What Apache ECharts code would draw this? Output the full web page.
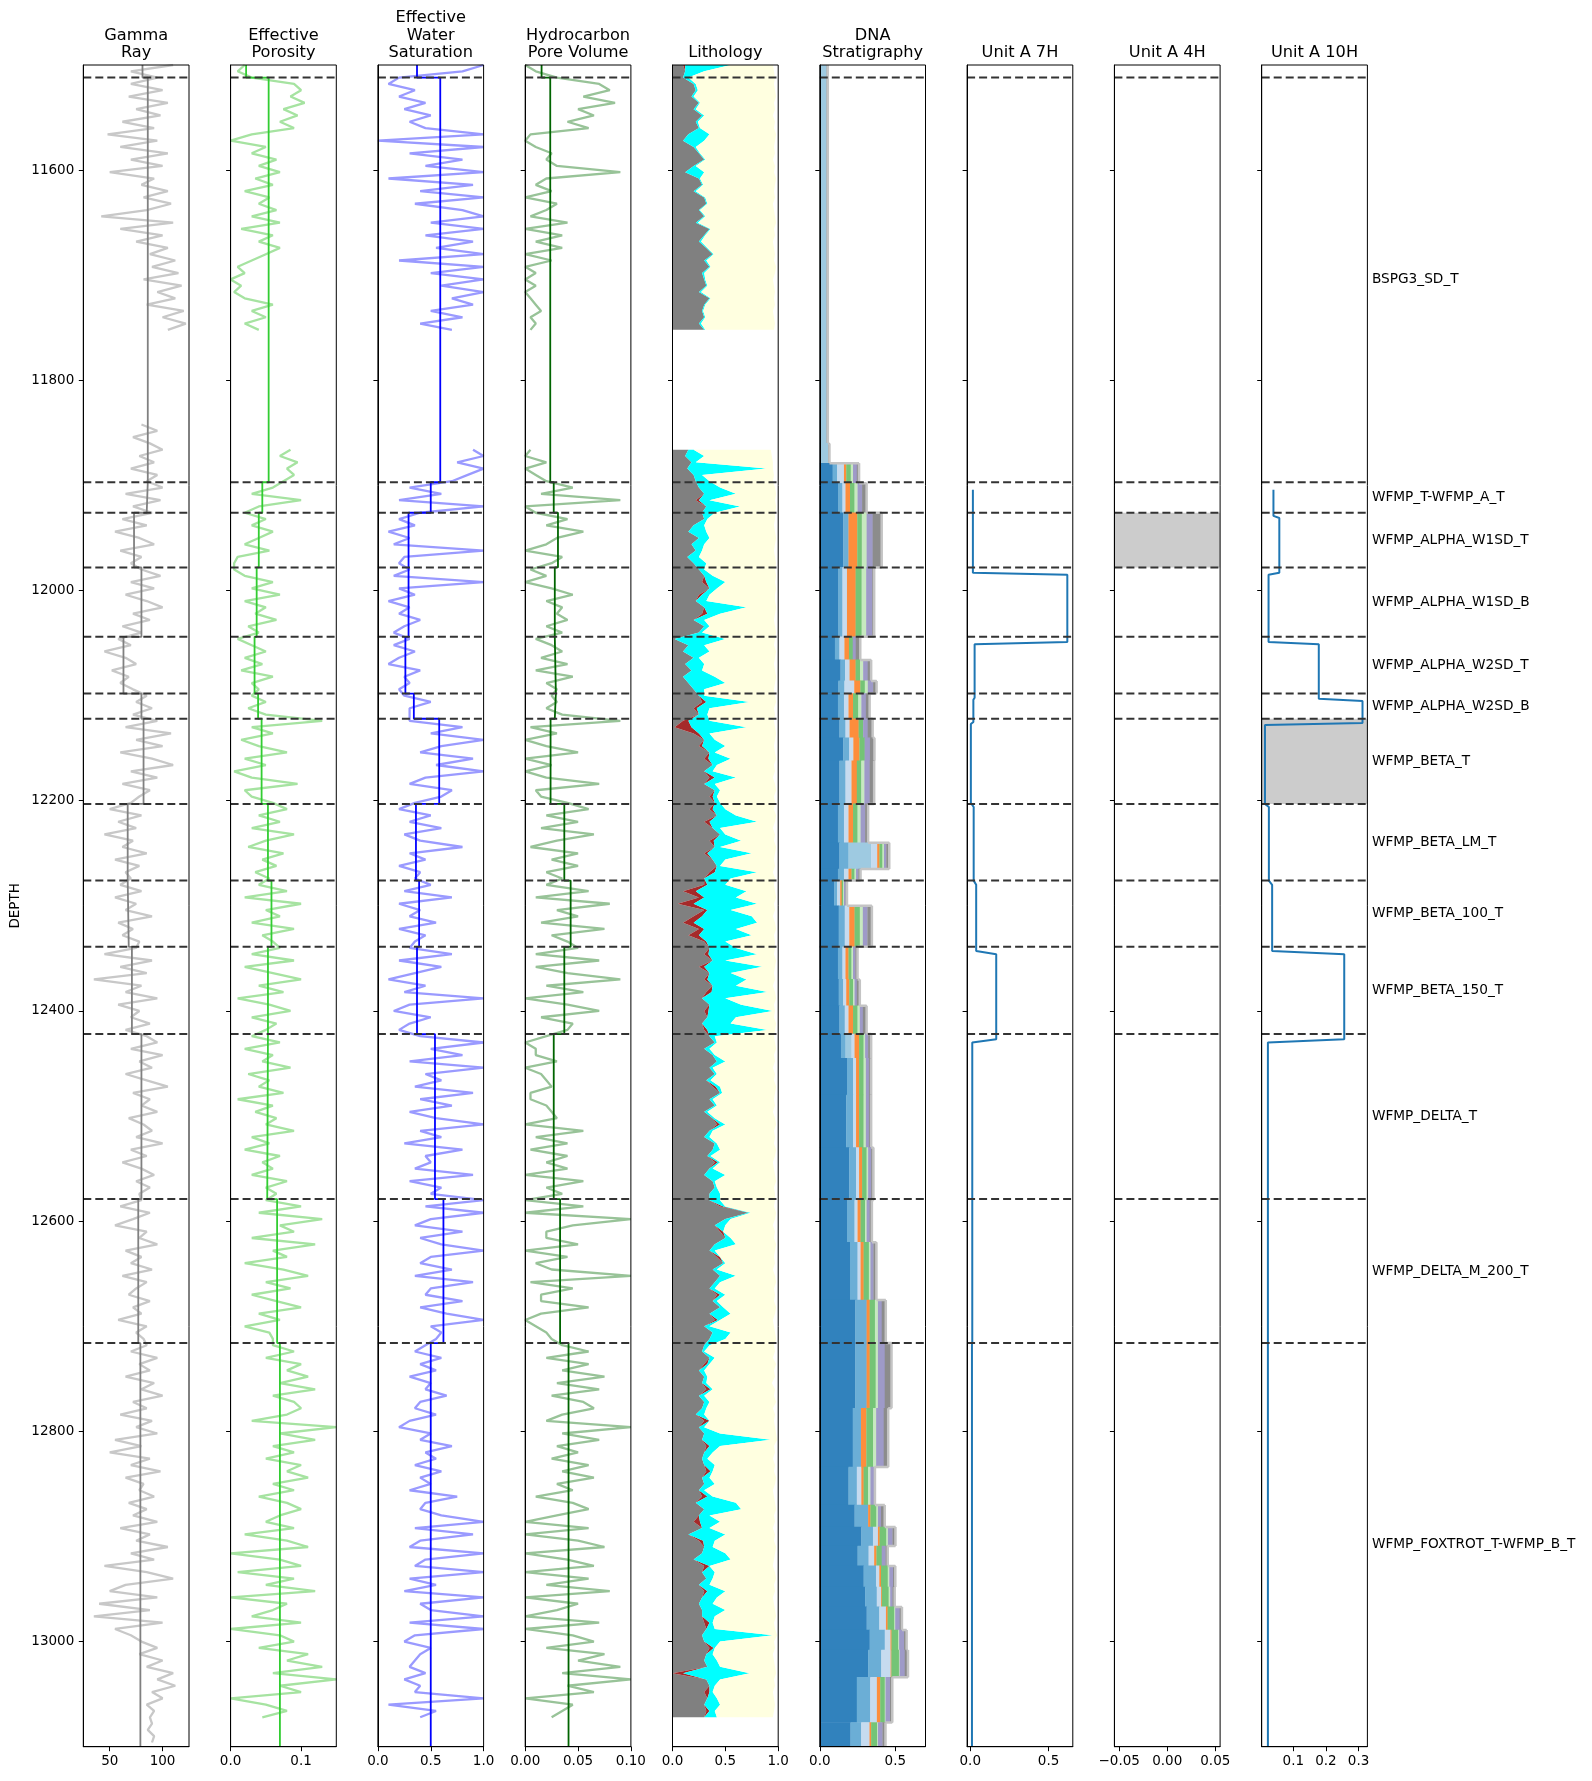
<!DOCTYPE html>
<html><head><meta charset="utf-8">
<script src="https://cdn.jsdelivr.net/npm/echarts@6/dist/echarts.min.js"></script>
<style>html,body{margin:0;padding:0;background:#fff}#c{width:1592px;height:1781px}</style>
</head><body><div id="c"></div>
<script>
// ---------------- DATA ----------------
const STEP = 6;
const UPPER_START = 11500;
const GR_LOWER_START = 11842;
const LOG_LOWER_START = 11866;
const DEPTH_MIN = 11500, DEPTH_MAX = 13100;
const DEPTH_TICKS = [11600, 11800, 12000, 12200, 12400, 12600, 12800, 13000];

const TOPS = [11512, 11897, 11926, 11978, 12044, 12098, 12122, 12203, 12276, 12339, 12422, 12579, 12716];
const TOP_NAMES = ['BSPG3_SD_T','WFMP_T-WFMP_A_T','WFMP_ALPHA_W1SD_T','WFMP_ALPHA_W1SD_B','WFMP_ALPHA_W2SD_T','WFMP_ALPHA_W2SD_B','WFMP_BETA_T','WFMP_BETA_LM_T','WFMP_BETA_100_T','WFMP_BETA_150_T','WFMP_DELTA_T','WFMP_DELTA_M_200_T','WFMP_FOXTROT_T-WFMP_B_T'];

// zone means (14 zones: 11500-11512, 11512-11897, ... , 12716-13100)
const GR_MEAN   = [81, 86, 85, 73, 80, 63, 80, 82, 67, 68, 71, 80, 77, 79];
const PHIE_MEAN = [0.022, 0.054, 0.045, 0.040, 0.037, 0.034, 0.039, 0.044, 0.053, 0.058, 0.053, 0.052, 0.066, 0.070];
const SW_MEAN   = [0.37, 0.59, 0.50, 0.29, 0.29, 0.26, 0.34, 0.58, 0.36, 0.39, 0.37, 0.54, 0.62, 0.50];
const HCPV_MEAN = [0.0155, 0.0237, 0.027, 0.031, 0.028, 0.029, 0.028, 0.024, 0.037, 0.043, 0.037, 0.027, 0.033, 0.041];

// Gamma ray
const GR_UPPER = [110,70,95,70,100,68,105,75,98,62, 92,48,95,60,105,70,100,50,92,80, 105,82,108,85,42,110,60,100,75,105, 88,112,90,115,82,118,95,112,85,120, 100,122,105];
const GR_LOWER = [
80,95,72,88,100,78,92,70,95,85,
100,65,98,72,90,
62,85,55,78,92,60,80,70,
80,98,70,92,65,85,100,72,88,62,80,
58,70,45,65,75,52,68,60,72,
85,75,90,72,
95,65,108,75,100,60,90,110,70,95,62,88,78,
70,50,80,58,75,45,72,62,85,55,78,65,70,
60,80,55,75,65,90,58,72,62,78,
75,45,90,60,85,35,80,65,95,58,78,70,88,65,
85,95,70,100,78,90,65,85,105,72,88,80,95,68,82,90,75,100,70,85,62,80,92,75,88,78,
80,60,88,72,55,85,78,95,65,80,70,90,62,85,75,68,88,72,80,58,85,75,82,
85,70,95,78,88,65,92,80,100,72, 85,60,90,75,95,55,80,50,88,70, 98,65,82,78,92,68,85,72,95,60,
88,75,105,70,92,45,85,110,65,50, 95,40,88,35,100,55,70,
80,95,78,100,85,110,95,112,90,100,85,92,88,90,86,92,90];

// Effective porosity
const PHIE_UPPER = [0.02,0.01,0.03,0.09,0.1,0.085,0.105,0.075,0.095,0.07, 0.09,0.03,0.0,0.05,0.03,0.065,0.04,0.07,0.035,0.06, 0.02,0.055,0.04,0.065,0.03,0.07,0.015,0.06,0.04,0.07, 0.05,0.03,0.01,0.02,0.0,0.015,0.005,0.02,0.06,0.03, 0.05,0.02,0.04];
const PHIE_LOWER = [
0.085,0.07,0.095,0.08,0.09,0.075,
0.06,0.03,0.1,0.04,0.02,
0.05,0.03,0.06,0.04,0.02,0.055,0.01,0.005,
0.005,0.02,0.06,0.03,0.07,0.02,0.05,0.035,0.065,0.025,0.04,
0.01,0.03,0.05,0.02,0.045,0.015,0.06,0.03,0.04,
0.03,0.05,0.025,0.05,
0.13,0.03,0.06,0.015,0.04,0.08,0.02,0.05,0.005,0.03,0.095,0.02,0.03,
0.06,0.08,0.04,0.07,0.03,0.09,0.05,0.025,0.075,0.045,0.065,0.035,0.055,
0.04,0.08,0.02,0.1,0.05,0.07,0.03,0.09,0.045,0.06,
0.07,0.03,0.09,0.02,0.06,0.1,0.04,0.075,0.01,0.055,0.085,0.03,0.065,0.05,
0.03,0.07,0.02,0.06,0.045,0.085,0.025,0.055,0.04,0.075,0.01,0.06,0.035,0.065,0.05,0.09,0.03,0.055,0.02,0.07,0.045,0.06,0.03,0.08,0.05,0.065,
0.05,0.1,0.04,0.13,0.07,0.09,0.03,0.12,0.06,0.08,0.02,0.075,0.11,0.05,0.085,0.03,0.065,0.1,0.04,0.07,0.02,0.055,0.06,
0.06,0.09,0.05,0.1,0.08,0.11,0.07,0.12,0.06,0.09, 0.1,0.08,0.03,0.15,0.07,0.12,0.06,0.09,0.05,0.1,
0.08,0.11,0.06,0.09,0.04,0.08,0.1,0.07,0.05,0.09, 0.02,0.08,0.11,0.0,0.07,0.1,0.01,0.09,0.05,0.12,
0.0,0.08,0.06,0.03,0.1,0.0,0.07,0.09,0.04,0.11, 0.08,0.13,0.06,0.15,0.07,0.1,0.0,0.05,0.08,0.045];

// Effective water saturation
const SW_UPPER = [1.0,0.8,0.2,0.1,0.35,0.2,0.45,0.25,0.5,0.3, 0.45,1.0,0.0,1.0,0.3,0.8,0.45,1.0,0.1,0.9, 0.4,1.0,0.35,0.8,1.0,0.5,1.0,0.45,0.9,0.55, 1.0,0.2,1.0,0.5,1.0,0.6,1.0,0.7,0.9,0.5, 0.8,0.4,0.7];
const SW_LOWER = [
0.9,1.0,0.75,1.0,0.85,0.7,
0.3,0.6,0.2,1.0,0.4,
0.2,0.35,0.1,0.3,0.15,1.0,0.25,0.2,
0.3,0.15,1.0,0.2,0.35,0.1,0.3,0.2,0.4,0.25,0.15,
0.3,0.15,0.35,0.2,0.1,0.4,0.25,0.3,0.2,
0.25,0.5,0.3,0.3,
0.3,0.8,0.5,1.0,0.6,0.4,0.9,0.55,1.0,0.45,0.3,0.7,0.6,
0.35,0.2,0.5,0.3,0.6,0.25,0.4,0.8,0.3,0.45,0.2,0.4,0.35,
0.5,0.25,0.7,0.2,0.4,0.3,0.55,0.2,0.45,0.35,
0.3,0.7,0.2,0.6,0.35,0.1,0.45,0.25,1.0,0.3,0.15,0.5,0.3,0.2,
0.4,1.0,0.5,0.8,0.3,1.0,0.45,0.6,0.35,0.9,0.4,0.7,0.3,0.55,1.0,0.4,0.6,0.25,0.8,0.45,0.5,0.35,0.9,0.3,0.6,0.5,
1.0,0.45,1.0,0.5,0.35,0.8,0.4,0.6,1.0,0.5,0.4,0.7,0.35,0.9,0.5,0.45,0.8,0.4,0.65,1.0,0.5,0.6,0.55,
0.45,0.35,0.6,0.4,0.55,0.3,0.5,0.45,0.65,0.4, 0.35,0.55,0.3,0.2,0.5,0.4,0.7,0.45,0.55,0.35,
0.6,0.4,0.5,0.3,0.75,0.45,0.4,0.6,1.0,0.35, 0.9,0.4,0.3,1.0,0.45,0.35,1.0,0.3,0.55,0.25,
1.0,0.4,0.5,1.0,0.3,1.0,0.35,0.25,0.5,0.4, 0.35,0.3,0.45,0.25,0.4,0.35,1.0,0.1,0.55,0.4];

// Hydrocarbon pore volume
const HCPV_UPPER = [0.0,0.01,0.03,0.07,0.08,0.055,0.085,0.05,0.065,0.04, 0.06,0.005,0.0,0.01,0.025,0.02,0.03,0.09,0.02,0.01, 0.025,0.0,0.03,0.02,0.005,0.04,0.0,0.035,0.01,0.035, 0.0,0.025,0.0,0.01,0.0,0.01,0.0,0.005,0.01,0.015, 0.005,0.01,0.005];
const HCPV_LOWER = [
0.005,0.0,0.02,0.0,0.01,0.02,
0.045,0.015,0.09,0.0,0.01,
0.04,0.02,0.055,0.03,0.02,0.0,0.035,0.025,
0.005,0.02,0.0,0.025,0.045,0.02,0.035,0.03,0.04,0.02,0.035,
0.01,0.025,0.035,0.015,0.04,0.01,0.045,0.02,0.03,
0.025,0.03,0.02,0.035,
0.09,0.005,0.03,0.0,0.02,0.05,0.0,0.025,0.0,0.02,0.07,0.01,0.015,
0.04,0.06,0.02,0.05,0.015,0.065,0.03,0.005,0.05,0.025,0.05,0.02,0.035,
0.02,0.06,0.01,0.08,0.03,0.05,0.015,0.075,0.025,0.04,
0.05,0.01,0.07,0.01,0.04,0.09,0.02,0.055,0.0,0.04,0.07,0.015,0.045,0.04,
0.02,0.0,0.01,0.01,0.03,0.0,0.015,0.02,0.025,0.005,0.005,0.02,0.025,0.03,0.0,0.055,0.01,0.04,0.005,0.04,0.02,0.04,0.0,0.055,0.02,0.035,
0.0,0.055,0.0,0.1,0.045,0.02,0.02,0.05,0.0,0.04,0.01,0.025,0.1,0.005,0.045,0.015,0.015,0.06,0.015,0.0,0.01,0.02,0.025,
0.035,0.06,0.02,0.06,0.035,0.075,0.03,0.07,0.025,0.055, 0.065,0.035,0.02,0.1,0.035,0.07,0.03,0.05,0.025,0.06,
0.035,0.065,0.03,0.045,0.01,0.045,0.06,0.03,0.0,0.06, 0.0,0.05,0.075,0.0,0.04,0.065,0.0,0.06,0.02,0.08,
0.0,0.05,0.03,0.0,0.07,0.0,0.045,0.065,0.02,0.075, 0.05,0.09,0.035,0.1,0.04,0.065,0.0,0.045,0.035,0.025];

// Lithology: shale edge, brown width, sand (cyan) edge, outer (light yellow) edge
const LITH_SH_UPPER = [0.1,0.12,0.1,0.2,0.22,0.18,0.25,0.2,0.28,0.22, 0.25,0.15,0.1,0.2,0.25,0.3,0.2,0.12,0.25,0.28, 0.2,0.3,0.32,0.25,0.3,0.22,0.35,0.3,0.25,0.32, 0.38,0.3,0.35,0.28,0.3,0.32,0.25,0.35,0.3,0.28, 0.3,0.25,0.3];
const LITH_BR_UPPER = [0.02,0,0,0,0,0,0,0,0,0, 0,0,0,0,0,0,0,0,0,0, 0,0,0,0,0,0,0,0,0,0, 0,0,0,0,0,0,0,0,0,0, 0,0,0];
const LITH_SS_UPPER = [0.55,0.3,0.15,0.22,0.24,0.2,0.26,0.22,0.3,0.24, 0.26,0.35,0.3,0.22,0.26,0.31,0.22,0.3,0.26,0.29, 0.22,0.31,0.33,0.26,0.31,0.24,0.36,0.31,0.27,0.33, 0.39,0.32,0.36,0.3,0.31,0.33,0.27,0.36,0.31,0.29, 0.31,0.27,0.31];
const LITH_END_UPPER = [0.95,0.96,0.97,0.96,0.97,0.98,0.96,0.97,0.95,0.97, 0.96,0.98,0.97,0.96,0.97,0.95,0.97,0.96,0.98,0.97, 0.96,0.97,0.95,0.96,0.97,0.98,0.96,0.97,0.95,0.96, 0.97,0.96,0.98,0.97,0.95,0.96,0.97,0.96,0.97,0.95, 0.96,0.97,0.96];

const LITH_SH_LOWER = [
0.15,0.12,0.18,0.14,0.2,0.22,
0.25,0.3,0.22,0.32,0.28,
0.3,0.2,0.15,0.25,0.18,0.22,0.14,0.2,
0.25,0.3,0.28,0.35,0.25,0.22,0.3,0.28,0.2,0.3,0.25,
0.02,0.15,0.1,0.2,0.12,0.18,0.1,0.15,0.2,
0.25,0.28,0.2,0.25,
0.1,0.02,0.2,0.3,0.25,0.35,0.3,0.38,0.3,0.35,0.3,0.4,0.35,
0.4,0.35,0.42,0.3,0.38,0.45,0.35,0.4,0.3,0.38,0.42,0.35,0.3,
0.3,0.1,0.25,0.05,0.3,0.2,0.1,0.25,0.15,0.3,
0.35,0.3,0.38,0.25,0.35,0.3,0.38,0.32,0.28,0.35,0.3,0.33,0.28,0.3,
0.35,0.4,0.3,0.38,0.42,0.35,0.4,0.32,0.38,0.45,0.35,0.4,0.3,0.38,0.42,0.35,0.3,0.4,0.38,0.33,0.4,0.35,0.3,0.38,0.4,0.35,
0.35,0.45,0.72,0.5,0.4,0.45,0.5,0.4,0.35,0.42,0.48,0.38,0.45,0.4,0.35,0.42,0.38,0.45,0.35,0.4,0.3,0.38,0.35,
0.3,0.28,0.35,0.3,0.25,0.3,0.28,0.32,0.25,0.3, 0.28,0.22,0.3,0.25,0.3,0.28,0.32,0.3,0.28,0.3,
0.32,0.28,0.3,0.25,0.28,0.22,0.3,0.25,0.2,0.28, 0.15,0.25,0.3,0.28,0.2,0.3,0.28,0.32,0.25,0.3,
0.28,0.25,0.28,0.28,0.3,0.32,0.28,0.3,0.35,0.32, 0.3,0.33,0.0,0.32,0.35,0.3,0.33,0.3,0.32,0.3];
const LITH_BR_LOWER = [
0,0,0,0,0,0,
0,0,0.03,0,0,
0,0,0,0,0,0,0,0,
0,0,0.04,0,0.03,0,0,0.05,0,0,0,
0,0,0,0,0,0,0,0,0,
0,0.04,0.03,0,
0.05,0.16,0.05,0,0.03,0,0.04,0,0,0.05,0,0,0.03,
0,0.03,0,0.05,0,0,0.04,0,0.03,0,0,0.05,0,
0.03,0.12,0.05,0.15,0.03,0.08,0.1,0.05,0.1,0.02,
0,0.04,0,0.05,0,0.03,0,0.05,0,0,0.04,0,0,0.03,
0,0,0,0,0,0,0,0,0.03,0,0,0,0,0,0.03,0,0,0,0,0,0.03,0,0,0,0,0,
0,0.03,0,0,0,0.03,0,0,0,0.03,0,0,0,0,0,0.03,0,0,0,0.03,0,0,0,
0,0,0,0.03,0,0,0,0.04,0,0, 0,0,0.05,0,0,0,0.03,0,0,0,
0.04,0,0,0,0.05,0,0,0,0.06,0, 0,0.04,0,0,0,0.05,0,0,0,0.03,
0,0,0,0,0.05,0,0,0,0.04,0, 0,0,0.1,0,0,0.05,0,0,0.03,0];
const LITH_SS_LOWER = [
0.2,0.3,0.22,0.89,0.28,0.35,
0.45,0.6,0.35,0.64,0.4,
0.33,0.3,0.32,0.35,0.3,0.28,0.25,0.32,
0.3,0.38,0.5,0.42,0.35,0.32,0.7,0.45,0.3,0.35,0.28,
0.5,0.3,0.35,0.25,0.3,0.28,0.4,0.5,0.3,
0.3,0.73,0.35,0.33,
0.35,0.7,0.35,0.4,0.5,0.4,0.55,0.42,0.38,0.6,0.4,0.45,0.42,
0.45,0.5,0.6,0.8,0.45,0.5,0.65,0.45,0.75,0.5,0.45,0.8,0.55,
0.5,0.7,0.6,0.8,0.55,0.75,0.8,0.6,0.75,0.5,
0.6,0.8,0.5,0.85,0.55,0.7,0.6,0.9,0.5,0.65,0.95,0.6,0.55,0.9,
0.4,0.42,0.35,0.4,0.5,0.38,0.42,0.36,0.45,0.47,0.38,0.42,0.33,0.4,0.5,0.38,0.35,0.42,0.45,0.36,0.45,0.38,0.5,0.4,0.42,0.45,
0.45,0.5,0.74,0.55,0.5,0.48,0.55,0.6,0.4,0.45,0.5,0.42,0.6,0.45,0.4,0.5,0.42,0.48,0.55,0.45,0.35,0.55,0.5,
0.35,0.3,0.4,0.35,0.3,0.33,0.32,0.38,0.3,0.35, 0.32,0.3,0.35,0.3,0.45,0.93,0.45,0.38,0.33,0.4,
0.38,0.35,0.4,0.3,0.38,0.6,0.65,0.35,0.45,0.35, 0.5,0.4,0.38,0.5,0.55,0.35,0.4,0.38,0.35,0.5,
0.42,0.38,0.5,0.4,0.38,0.4,0.95,0.45,0.4,0.38, 0.42,0.45,0.73,0.45,0.4,0.38,0.42,0.45,0.4,0.42];
const LITH_END_LOWER = [
0.93,0.94,0.95,0.95,0.96,0.95,
0.97,0.98,0.97,0.98,0.97,
0.97,0.96,0.97,0.98,0.97,0.96,0.97,0.98,
0.97,0.98,0.97,0.98,0.97,0.97,0.98,0.97,0.96,0.97,0.98,
0.97,0.96,0.98,0.97,0.96,0.97,0.98,0.97,0.96,
0.97,0.98,0.96,0.97,
0.96,0.97,0.98,0.97,0.96,0.97,0.98,0.96,0.97,0.95,0.97,0.98,0.96,
0.97,0.96,0.98,0.97,0.95,0.97,0.96,0.98,0.97,0.96,0.97,0.95,0.97,
0.96,0.97,0.98,0.96,0.97,0.95,0.97,0.98,0.96,0.97,
0.97,0.96,0.98,0.97,0.96,0.97,0.95,0.97,0.98,0.96,0.97,0.96,0.98,0.97,
0.96,0.97,0.98,0.96,0.97,0.95,0.97,0.96,0.98,0.97,0.96,0.97,0.95,0.97,0.98,0.96,0.97,0.96,0.98,0.97,0.95,0.96,0.97,0.98,0.96,0.97,
0.97,0.96,0.98,0.97,0.95,0.97,0.96,0.98,0.97,0.96,0.97,0.95,0.97,0.98,0.96,0.97,0.96,0.98,0.97,0.95,0.96,0.97,0.98,
0.96,0.97,0.95,0.98,0.96,0.97,0.94,0.97,0.96,0.98, 0.95,0.97,0.96,0.97,0.98,0.99,0.96,0.97,0.95,0.97,
0.96,0.98,0.97,0.95,0.96,0.97,0.98,0.96,0.97,0.95, 0.97,0.96,0.98,0.97,0.96,0.95,0.97,0.98,0.96,0.97,
0.95,0.96,0.97,0.98,0.96,0.97,0.99,0.96,0.97,0.95, 0.96,0.97,0.98,0.96,0.97,0.95,0.96,0.97,0.96,0.95];

// DNA stratigraphy: interval edges and stacked band widths
const DNA_EDGES = [11500,11860,11879,11898,11926,11978,12044,12066,12086,12098,12122,12140,12162,12203,12240,12265,12276,12300,12339,12370,12395,12422,12445,12480,12530,12580,12620,12675,12716,12778,12834,12870,12891,12909,12928,12948,12967,12989,13008,13034,13077,13100];
const DNA_B1 = [0,0,.085,.123,.155,.123,.10,.137,.123,.12, .13,.155,.13,.12,.13,.12,.095,.125,.12,.125, .13,.14,.18,.175,.195,.18,.2,.235,.235,.218, .19,.23,.275,.25,.29,.3,.31,.33,.32,.245, .203];
const DNA_B2 = [0,0,.03,.027,.035,.027,.03,.03,.04,.04, .04,.04,.04,.04,.06,.04,.02,.04,.03,.03, .035,.03,.04,.045,.045,.05,.05,.075,.075,.055, .055,.09,.077,.073,.082,.077,.084,.1,.087,.089, .071];
const DNA_B3 = [.045,.055,0,0,0,0,0,0,0,0, 0,0,0,0,.15,0,0,0,0,0, 0,.04,0,0,0,0,0,0,0,0, 0,0,0,0,0,0,0,0,0,0, 0];
const DNA_B4 = [0,0,.045,.02,0,.03,.033,.03,.065,.03, .027,.027,.04,.03,.04,.03,.02,.03,.02,.02, .025,.02,.02,.02,.02,.02,.02,0,0,0, .03,0,.033,.037,.022,.029,.044,.038,.062,.044, .055];
const DNA_B5 = [0,0,.015,.03,.058,.057,.03,.04,.04,.03, .06,.04,.035,.03,.015,.02,.01,.035,.02,.02, .03,.03,.02,.02,.02,.02,.02,.02,.02,.035, .015,.015,.011,.015,.011,.005,.011,.007,.005,.022, .011];
const DNA_B6 = [0,0,.03,.03,.03,.04,.025,.03,.03,.035, .03,.035,.03,.03,.02,.02,.01,.035,.02,.025, .03,.03,.03,.03,.03,.03,.035,.035,.04,.045, .03,.04,.045,.035,.045,.045,.045,.045,.05,.03, .04];
const DNA_B7 = [0,0,.015,.02,.032,.03,0,.02,.02,.02, 0,0,.02,.02,.01,.01,.005,.02,.01,.01, .015,.01,.015,.015,.01,.01,.01,.02,.015,.02, .015,.01,.01,0,.01,.01,.005,.005,.005,.005, .005];
const DNA_B8 = [0,0,.025,.03,.04,.04,.02,.03,.035,.03, .03,.035,.035,.03,.015,.015,.01,.03,.015,.015, .02,.02,.02,.02,.02,.02,.02,.025,.045,.05, .03,.02,.03,.025,.025,.015,.03,.033,.033,.03, .03];
const DNA_B9 = [.008,.009,.015,.03,.06,.013,.03,.023,.023,.025, .033,.03,.03,.02,.02,.015,.01,.03,.015,.02, .025,.02,.015,.015,.015,.015,.02,.027,.045,.03, 0,.025,.02,.015,.015,.015,.015,.017,.022,.015, .02];

// Unit A wells
const U7_DEPTH = [11904,11983,11985,12049,12051,12102,12104,12125,12127,12202,12206,12276,12280,12343,12346,12427,12430,12715,12718,13100];
const U7_VALUE = [0.017,0.017,0.62,0.62,0.028,0.028,0.02,0.02,0.004,0.004,0.022,0.022,0.038,0.038,0.166,0.166,0.013,0.013,0.011,0.011];
const U10_DEPTH = [11904,11929,11931,11983,11985,12049,12051,12103,12105,12126,12128,12203,12206,12276,12280,12343,12346,12427,12430,13100];
const U10_VALUE = [0.039,0.039,0.057,0.057,0.024,0.024,0.178,0.178,0.312,0.312,0.013,0.013,0.025,0.025,0.035,0.035,0.256,0.256,0.022,0.022];
const BOX_4H = [11926, 11978];
const BOX_10H = [12122, 12203];

// ---------------- LAYOUT ----------------
const TRACKS = [
  {title:'Gamma\nRay', min:25, max:125, ticks:[50,100], labels:['50','100']},
  {title:'Effective\nPorosity', min:0, max:0.15, ticks:[0,0.1], labels:['0.0','0.1']},
  {title:'Effective\nWater\nSaturation', min:0, max:1, ticks:[0,0.5,1], labels:['0.0','0.5','1.0']},
  {title:'Hydrocarbon\nPore Volume', min:0, max:0.1, ticks:[0,0.05,0.1], labels:['0.00','0.05','0.10']},
  {title:'Lithology', min:0, max:1, ticks:[0,0.5,1], labels:['0.0','0.5','1.0']},
  {title:'DNA\nStratigraphy', min:0, max:0.7, ticks:[0,0.5], labels:['0.0','0.5']},
  {title:'Unit A 7H', min:-0.02, max:0.655, ticks:[0,0.5], labels:['0.0','0.5']},
  {title:'Unit A 4H', min:-0.055, max:0.055, ticks:[-0.05,0,0.05], labels:['\u22120.05','0.00','0.05']},
  {title:'Unit A 10H', min:0.003, max:0.327, ticks:[0.1,0.2,0.3], labels:['0.1','0.2','0.3']}
];
const L0 = 83.3, PITCH = 147.3, TW = 105.7, PT = 65, PH = 1681.7;
const FONT = 'DejaVu Sans';
const ZONE_EDGES = [DEPTH_MIN].concat(TOPS, [DEPTH_MAX]);

function seqPairs(arr, start) { const o=[]; arr.forEach((v,i)=>{ if(v!==null && v!==undefined) o.push([v, start+i*STEP]); }); return o; }
function stepPairs(means) { const o=[]; means.forEach((m,k)=>{ o.push([m, ZONE_EDGES[k]]); o.push([m, ZONE_EDGES[k+1]]); }); return o; }
function zipPairs(depths, vals) { return depths.map((d,i)=>[vals[i], d]); }
function line(idx, data, color, width, z) {
  return {type:'line', xAxisIndex:idx, yAxisIndex:idx, data, showSymbol:false, symbol:'none',
    lineStyle:{color, width}, z: z||2, silent:true, animation:false, clip:true};
}

const series = [];
series.push(line(0, seqPairs(GR_UPPER, UPPER_START), '#c8c8c8', 2.3));
series.push(line(0, seqPairs(GR_LOWER, GR_LOWER_START), '#c8c8c8', 2.3));
series.push(line(0, stepPairs(GR_MEAN), '#808080', 1.8, 3));
series.push(line(1, seqPairs(PHIE_UPPER, UPPER_START), '#a6e3a1', 2.3));
series.push(line(1, seqPairs(PHIE_LOWER, LOG_LOWER_START), '#a6e3a1', 2.3));
series.push(line(1, stepPairs(PHIE_MEAN), '#32cd32', 1.8, 3));
series.push(line(2, seqPairs(SW_UPPER, UPPER_START), '#9a9aff', 2.3));
series.push(line(2, seqPairs(SW_LOWER, LOG_LOWER_START), '#9a9aff', 2.3));
series.push(line(2, stepPairs(SW_MEAN), '#0000ff', 1.8, 3));
series.push(line(3, seqPairs(HCPV_UPPER, UPPER_START), '#98c398', 2.3));
series.push(line(3, seqPairs(HCPV_LOWER, LOG_LOWER_START), '#98c398', 2.3));
series.push(line(3, stepPairs(HCPV_MEAN), '#006400', 1.8, 3));

// Lithology polygons
const LITH_SEGS = [
  {start:UPPER_START, sh:LITH_SH_UPPER, br:LITH_BR_UPPER, ss:LITH_SS_UPPER, end:LITH_END_UPPER},
  {start:LOG_LOWER_START, sh:LITH_SH_LOWER, br:LITH_BR_LOWER, ss:LITH_SS_LOWER, end:LITH_END_LOWER}
];
const LITH_COLORS = ['#808080', '#a52a2a', '#00ffff', '#ffffe0'];
const lithItems = [];
LITH_SEGS.forEach((s,si)=>{ for (let b=0;b<4;b++) lithItems.push({si, b}); });
function lithEdges(seg, i) {
  const s = seg.sh[i], e2 = s + (seg.br[i]||0);
  const e3 = Math.max(seg.ss[i], e2), e4 = Math.max(seg.end[i], e3);
  return [0, s, e2, e3, e4];
}
series.push({type:'custom', xAxisIndex:4, yAxisIndex:4, clip:true, silent:true, animation:false, z:2,
  data: lithItems.map(it=>[0, LITH_SEGS[it.si].start]),
  renderItem(params, api) {
    const it = lithItems[params.dataIndex], seg = LITH_SEGS[it.si];
    const n = Math.min(seg.sh.length, seg.br.length, seg.ss.length, seg.end.length);
    const right=[], left=[];
    for (let i=0;i<n;i++) {
      const e = lithEdges(seg, i), d = seg.start + i*STEP;
      right.push(api.coord([e[it.b+1], d]));
      left.push(api.coord([e[it.b], d]));
    }
    return {type:'polygon', shape:{points: right.concat(left.reverse())}, style:{fill: LITH_COLORS[it.b]}};
  }});

// DNA stacked intervals
const DNA_BANDS = [DNA_B1, DNA_B2, DNA_B3, DNA_B4, DNA_B5, DNA_B6, DNA_B7, DNA_B8, DNA_B9];
const DNA_COLORS = ['#3182bd','#6baed6','#9ecae1','#c6dbef','#fd8d3c','#74c476','#c7e9c0','#9e9ac8','#8c8c8c'];
function dnaTotal(i) { return DNA_BANDS.reduce((s,b)=>s+b[i], 0); }
series.push({type:'custom', xAxisIndex:5, yAxisIndex:5, clip:true, silent:true, animation:false, z:2,
  data: DNA_B1.map((v,i)=>[0, DNA_EDGES[i]]),
  renderItem(params, api) {
    const i = params.dataIndex, top = DNA_EDGES[i], bot = DNA_EDGES[i+1];
    let x = 0; const children = [];
    DNA_BANDS.forEach((band,k)=>{
      const w = band[i];
      if (w > 0) {
        const p0 = api.coord([x, top]), p1 = api.coord([x+w, bot]);
        children.push({type:'rect', shape:{x:p0[0], y:p0[1]-0.3, width:p1[0]-p0[0]+0.3, height:p1[1]-p0[1]+0.6}, style:{fill:DNA_COLORS[k]}});
        x += w;
      }
    });
    // light grey step outline at the right edge
    const a = api.coord([x, top]), b = api.coord([x, bot]);
    children.push({type:'line', shape:{x1:a[0], y1:a[1], x2:b[0], y2:b[1]}, style:{stroke:'#c4c4c4', lineWidth:2.5}});
    if (i > 0) {
      const prev = dnaTotal(i-1);
      const c = api.coord([Math.min(prev, x), top]), d = api.coord([Math.max(prev, x), top]);
      children.push({type:'line', shape:{x1:c[0], y1:c[1], x2:d[0], y2:d[1]}, style:{stroke:'#c4c4c4', lineWidth:2.5}});
    }
    return {type:'group', children};
  }});

// Unit A lines
series.push(line(6, zipPairs(U7_DEPTH, U7_VALUE), '#1f77b4', 2, 3));
series.push(line(8, zipPairs(U10_DEPTH, U10_VALUE), '#1f77b4', 2, 3));

// landing-zone boxes
function boxSeries(idx, box) {
  const t = TRACKS[idx];
  return {type:'custom', xAxisIndex:idx, yAxisIndex:idx, clip:true, silent:true, animation:false, z:1,
    data:[[t.min, box[0]]],
    renderItem(params, api) {
      const p0 = api.coord([t.min, box[0]]), p1 = api.coord([t.max, box[1]]);
      return {type:'rect', shape:{x:p0[0], y:p0[1], width:p1[0]-p0[0], height:p1[1]-p0[1]}, style:{fill:'#cccccc'}};
    }};
}
series.push(boxSeries(7, BOX_4H));
series.push(boxSeries(8, BOX_10H));

// formation tops (dashed)
TRACKS.forEach((t, idx)=>{
  series.push({type:'custom', xAxisIndex:idx, yAxisIndex:idx, clip:true, silent:true, animation:false, z:5,
    data: TOPS.map(d=>[t.min, d]),
    renderItem(params, api) {
      const d = TOPS[params.dataIndex];
      const p0 = api.coord([t.min, d]), p1 = api.coord([t.max, d]);
      return {type:'line', shape:{x1:p0[0], y1:p0[1], x2:p1[0], y2:p1[1]}, style:{stroke:'#333333', lineWidth:2, lineDash:[8,4]}};
    }});
});

// formation labels
series.push({type:'custom', xAxisIndex:8, yAxisIndex:8, clip:false, silent:true, animation:false, z:6,
  data: TOPS.map((d,i)=>[TRACKS[8].max, (d + ZONE_EDGES[i+2]) / 2]),
  renderItem(params, api) {
    const i = params.dataIndex;
    const p = api.coord([TRACKS[8].max, (TOPS[i] + ZONE_EDGES[i+2]) / 2]);
    return {type:'text', x: p[0] + 4.5, y: p[1], style:{text: TOP_NAMES[i], fill:'#000', font:'13.7px "DejaVu Sans"', align:'left', verticalAlign:'middle'}};
  }});

function fmt(t, v) {
  const k = t.ticks.findIndex(x => Math.abs(x - v) < 1e-9);
  return k >= 0 ? t.labels[k] : '';
}

const option = {
  backgroundColor:'#ffffff',
  animation:false,
  textStyle:{fontFamily:FONT},
  grid: TRACKS.map((t,i)=>({left: L0 + i*PITCH, top: PT, width: TW, height: PH, show:true, borderColor:'#000', borderWidth:1, backgroundColor:'transparent', z:10, containLabel:false})),
  xAxis: TRACKS.map((t,i)=>({gridIndex:i, type:'value', min:t.min, max:t.max, position:'bottom', z:10,
    axisLine:{show:true, onZero:false, lineStyle:{color:'#000', width:1}},
    axisTick:{show:true, length:4.5, customValues:t.ticks, lineStyle:{color:'#000', width:1}},
    axisLabel:{show:true, customValues:t.ticks, formatter:(v)=>fmt(t,v), color:'#000', fontSize:13.5, fontFamily:FONT, margin:8},
    splitLine:{show:false}})),
  yAxis: TRACKS.map((t,i)=>({gridIndex:i, type:'value', inverse:true, min:DEPTH_MIN, max:DEPTH_MAX, z:10,
    axisLine:{show:true, onZero:false, lineStyle:{color:'#000', width:1}},
    axisTick:{show:true, length:4.5, customValues:DEPTH_TICKS, lineStyle:{color:'#000', width:1}},
    axisLabel:{show:i===0, customValues:DEPTH_TICKS, formatter:(v)=>String(v), color:'#000', fontSize:13.5, fontFamily:FONT, margin:9},
    splitLine:{show:false},
    name: i===0 ? 'DEPTH' : '', nameLocation:'middle', nameGap:61, nameRotate:90,
    nameTextStyle:{color:'#000', fontSize:13.5, fontFamily:FONT}})),
  graphic: TRACKS.map((t,i)=>({type:'text', x: L0 + i*PITCH + TW/2, y: 61.5, silent:true,
    style:{text:t.title, align:'center', verticalAlign:'bottom', font:'16.2px "DejaVu Sans"', lineHeight:17.3, fill:'#000'}})),
  series
};
const chart = echarts.init(document.getElementById('c'), null, {renderer:'canvas'});
chart.setOption(option);
</script></body></html>
